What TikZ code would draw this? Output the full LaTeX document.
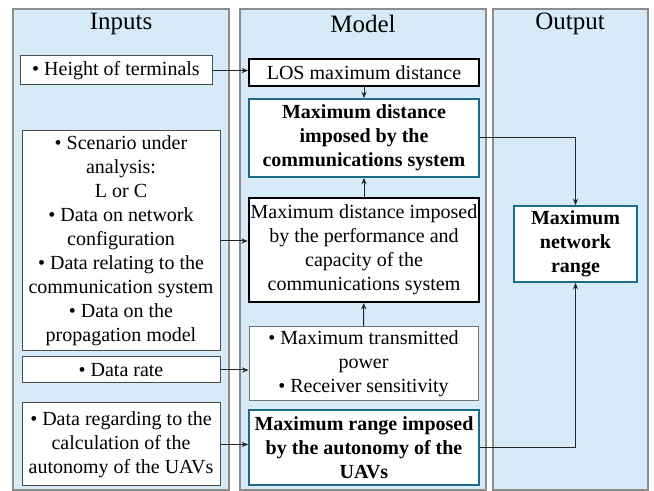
\documentclass[tikz,border=0pt]{standalone}
\usepackage{fontspec}
\setmainfont{Liberation Serif}
\usetikzlibrary{arrows.meta}
\definecolor{panelfill}{RGB}{214,234,248}
\definecolor{paneldraw}{RGB}{140,140,140}
\definecolor{keyblue}{RGB}{28,108,140}
\tikzset{
  panel/.style={draw=paneldraw, fill=panelfill, line width=.6pt},
  title/.style={font=\fontsize{12.5}{14}\selectfont},
  inbox/.style={draw=black!70, fill=white, line width=.5pt, align=center, inner sep=1pt,
    font=\fontsize{10}{12}\selectfont},
  modbox/.style={inbox, draw=black, line width=1pt, minimum width=115pt},
  keybox/.style={inbox, draw=keyblue, line width=.9pt, font=\fontsize{10}{12}\selectfont\bfseries},
  link/.style={draw=black!85, line width=.5pt, -{Stealth[length=3.2pt,width=2.6pt]}}
}
\begin{document}
\begin{tikzpicture}[x=.5pt, y=-.5pt]
\useasboundingbox (0,0) rectangle (654,491);
% three columns
\draw[panel](13,9) rectangle (229,490);
\draw[panel](240,9) rectangle (486,490);
\draw[panel](493,9) rectangle (648,490);
\node[title] (tin) at (121,24) {Inputs};
\node[title] (tmod) at (363,24) {Model};
\node[title] (tout) at (570,24) {Output};
% inputs
\node[inbox, minimum width=96pt, minimum height=14.5pt] (hgt) at (116,70.5) {• Height of terminals};
\node[inbox, minimum width=99pt, minimum height=110pt] (scen) at (121,241)
  {• Scenario under\\analysis:\\L or C\\• Data on network\\configuration\\• Data relating to the\\communication system\\• Data on the\\propagation model};
\node[inbox, minimum width=99pt, minimum height=13pt] (rate) at (121,370) {• Data rate};
\node[inbox, minimum width=99pt, minimum height=41.5pt] (uav) at (121,444.5)
  {• Data regarding to the\\calculation of the\\autonomy of the UAVs};
% model
\node[modbox, minimum height=13.5pt] (los) at (364,72.5) {LOS maximum distance};
\node[keybox, minimum width=115pt, minimum height=39pt] (comm) at (364,138)
  {Maximum distance\\imposed by the\\communications system};
\node[modbox, minimum height=52pt] (perf) at (364,250)
  {Maximum distance imposed\\by the performance and\\capacity of the\\communications system};
\node[inbox, draw=black!55, minimum width=114.5pt, minimum height=37pt] (pow) at (363.5,364)
  {• Maximum transmitted\\power\\• Receiver sensitivity};
\node[keybox, minimum width=115pt, minimum height=37.5pt] (rng) at (364,447.5)
  {Maximum range imposed\\by the autonomy of the\\UAVs};
% output
\node[keybox, minimum width=61.5pt, minimum height=38pt] (net) at (575.5,244)
  {Maximum\\network\\range};
% links
\draw[link](hgt.east)--(hgt.east -| los.west);
\draw[link](scen.east)--(scen.east -| perf.west);
\draw[link](rate.east)--(rate.east -| pow.west);
\draw[link](uav.east)--(uav.east -| rng.west);
\draw[link](los)--(comm);
\draw[link](perf)--(comm);
\draw[link](pow)--(perf);
\draw[link](comm.east)-|(net.north);
\draw[link](rng.east)-|(net.south);
\end{tikzpicture}
\end{document}
